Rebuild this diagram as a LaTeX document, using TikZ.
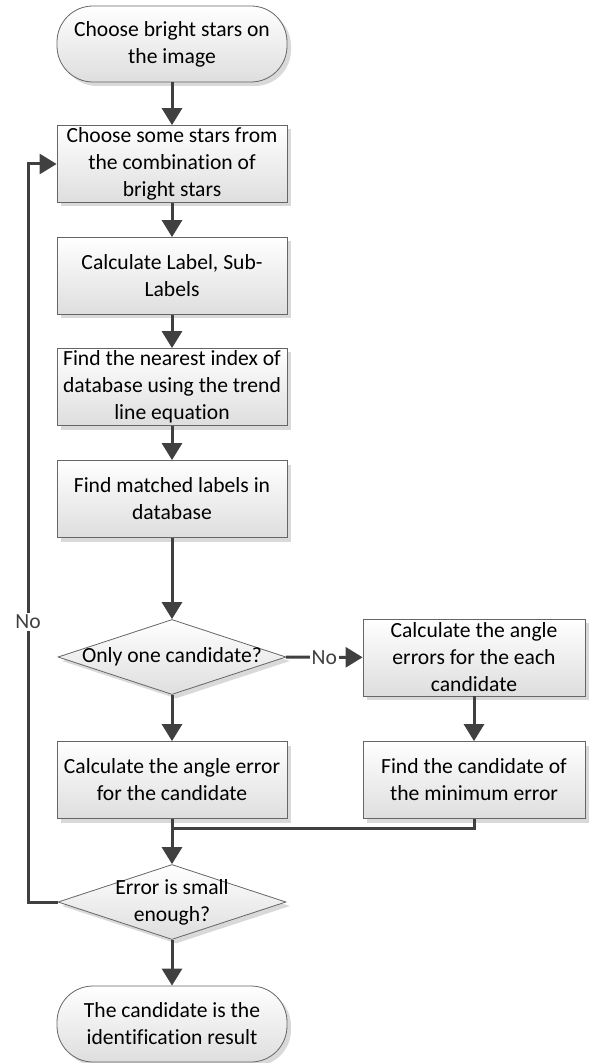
\documentclass[tikz,border=0pt]{standalone}
\usepackage{fontspec}
\setmainfont{Carlito}[Ligatures=CommonOff]
\usetikzlibrary{shapes.geometric, shadows, arrows.meta}

\begin{document}
\begin{tikzpicture}[x=0.5pt, y=-0.5pt,
        every node/.style={font=\fontsize{10.8}{13.5}\selectfont, align=center},
        box/.style={draw=black!60, thin, top color=white, bottom color=black!13, drop shadow={shadow xshift=2pt, shadow yshift=-2pt, fill=black!15, opacity=1}, minimum height=38.5pt, inner sep=1pt},
        terminal/.style={box, rounded corners=18pt, minimum width=115pt, minimum height=38pt},
        decision/.style={box, diamond, aspect=3, inner xsep=-5pt, inner ysep=0pt, minimum width=114pt, minimum height=37.5pt},
        arrow/.style={-{Triangle[length=8.5pt, width=10pt]}, line width=1.5pt, black!75},
        line/.style={line width=1.5pt, black!75}]
        \useasboundingbox (0,0) rectangle (595,1063);

        % Start
        \node[terminal] (start) at (172, 44) {Choose bright stars on\\the image};

        % Main column
        \node[box, minimum width=115pt] (choose) at (172, 164) {Choose some stars from\\the combination of\\bright stars};
        \node[box, minimum width=115pt] (label) at (172, 276) {Calculate Label, Sub-\\Labels};
        \node[box, minimum width=115pt] (nearest) at (172, 387) {Find the nearest index of\\database using the trend\\line equation};
        \node[box, minimum width=115pt] (matched) at (172, 499) {Find matched labels in\\database};

        % First decision and its two branches
        \node[decision] (one) at (172, 657) {Only one candidate?};
        \node[box, minimum width=111pt] (angles) at (474, 657.5) {Calculate the angle\\errors for the each\\candidate};
        \node[box, minimum width=115pt] (errone) at (172, 780) {Calculate the angle error\\for the candidate};
        \node[box, minimum width=111pt] (minerr) at (474, 780) {Find the candidate of\\the minimum error};

        % Second decision and end
        \node[decision, inner xsep=-10pt, inner ysep=-2pt] (small) at (172, 902) {Error is small\\enough?};
        \node[terminal] (result) at (172, 1024) {The candidate is the\\identification result};

        \coordinate (merge) at (172, 828);
        \coordinate (loop) at (28, 164);

        % Arrows
        \draw[arrow] (start) -- (choose);
        \draw[arrow] (choose) -- (label);
        \draw[arrow] (label) -- (nearest);
        \draw[arrow] (nearest) -- (matched);
        \draw[arrow] (matched) -- (one);
        \draw[arrow] (one) -- node[fill=white, inner sep=1pt] {No} (angles);
        \draw[arrow] (one) -- (errone);
        \draw[arrow] (angles) -- (minerr);
        \draw[line] (minerr.south) |- (merge);
        \draw[arrow] (errone) -- (small);
        \draw[arrow] (small) -- (result);
        \draw[arrow] (small.west) -| node[pos=0.69, fill=white, inner sep=1pt] {No} (loop) -- (choose.west);
\end{tikzpicture}
\end{document}
